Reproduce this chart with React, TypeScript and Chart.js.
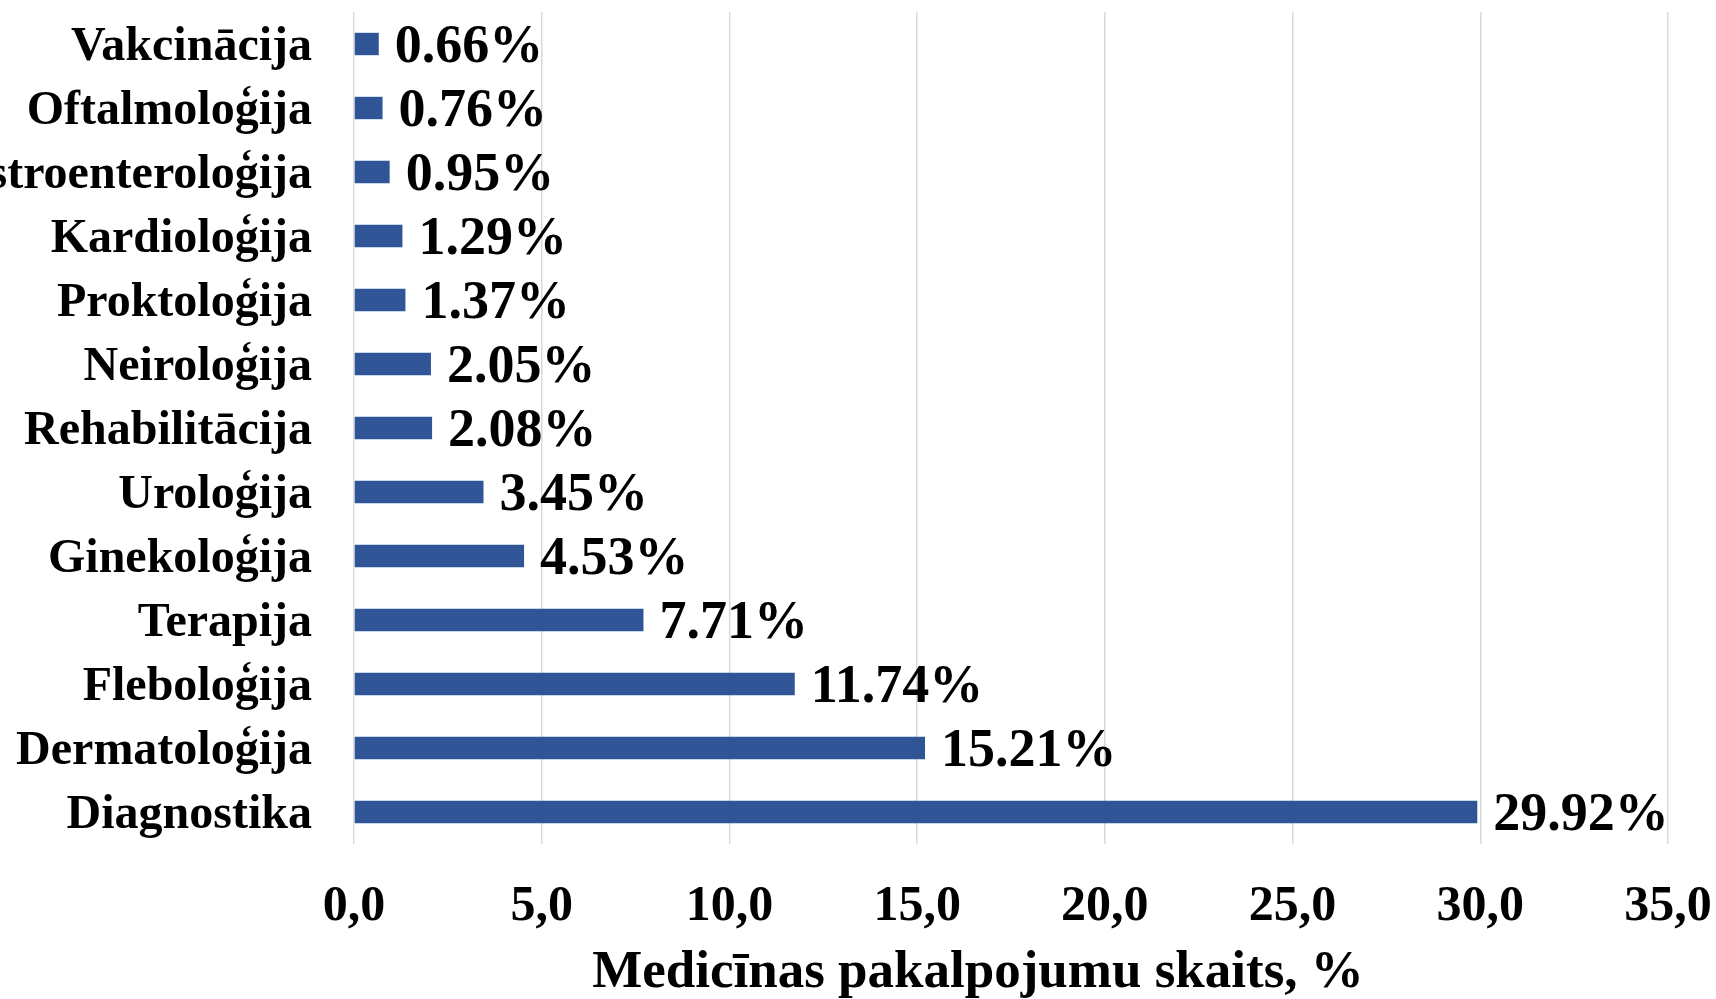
import React, { useEffect, useRef } from "react";
import { Chart, registerables } from "chart.js";

Chart.register(...registerables);

const categories = [
  "Vakcinācija",
  "Oftalmoloģija",
  "Gastroenteroloģija",
  "Kardioloģija",
  "Proktoloģija",
  "Neiroloģija",
  "Rehabilitācija",
  "Uroloģija",
  "Ginekoloģija",
  "Terapija",
  "Fleboloģija",
  "Dermatoloģija",
  "Diagnostika",
];

const values = [0.66, 0.76, 0.95, 1.29, 1.37, 2.05, 2.08, 3.45, 4.53, 7.71, 11.74, 15.21, 29.92];

const valueLabels = ["0.66%", "0.76%", "0.95%", "1.29%", "1.37%", "2.05%", "2.08%", "3.45%", "4.53%", "7.71%", "11.74%", "15.21%", "29.92%"];

const xTickValues = [0, 5, 10, 15, 20, 25, 30, 35];
const xTickLabels = ["0,0", "5,0", "10,0", "15,0", "20,0", "25,0", "30,0", "35,0"];

const axisTitle = "Medicīnas pakalpojumu skaits, %";

const FONT = "'Liberation Serif', 'Times New Roman', serif";

const valueLabelPlugin = {
  id: "valueLabels",
  afterDatasetsDraw(chart: any) {
    const ctx = chart.ctx;
    const meta = chart.getDatasetMeta(0);
    ctx.save();
    ctx.font = `bold 54px ${FONT}`;
    ctx.fillStyle = "#000000";
    ctx.textAlign = "left";
    ctx.textBaseline = "alphabetic";
    meta.data.forEach((el: any, i: number) => {
      ctx.fillText(valueLabels[i], el.x + 16, el.y + 18);
    });
    ctx.restore();
  },
};

const axisTitlePlugin = {
  id: "axisTitleCustom",
  afterDraw(chart: any) {
    const ctx = chart.ctx;
    ctx.save();
    ctx.font = `bold 53px ${FONT}`;
    ctx.fillStyle = "#000000";
    ctx.textAlign = "center";
    ctx.textBaseline = "alphabetic";
    ctx.fillText(axisTitle, 978, 987);
    ctx.restore();
  },
};

export default function App() {
  const canvasRef = useRef<HTMLCanvasElement | null>(null);

  useEffect(() => {
    document.body.style.margin = "0";
    const canvas = canvasRef.current;
    if (!canvas) return;
    const chart = new Chart(canvas, {
      type: "bar",
      data: {
        labels: categories,
        datasets: [
          {
            data: values,
            backgroundColor: "#2F5597",
            borderWidth: 0,
            barPercentage: 0.35,
            categoryPercentage: 1,
          },
        ],
      },
      options: {
        indexAxis: "y",
        animation: false,
        responsive: false,
        devicePixelRatio: 1,
        layout: { padding: { top: 12, right: 48, left: 0, bottom: 0 } },
        plugins: {
          legend: { display: false },
          tooltip: { enabled: false },
          title: { display: false },
        },
        scales: {
          x: {
            type: "linear",
            min: 0,
            max: 35,
            afterBuildTicks(scale: any) {
              scale.ticks = xTickValues.map((v) => ({ value: v }));
            },
            afterFit(scale: any) {
              scale.height = 155;
              scale.paddingLeft = 0;
              scale.paddingRight = 0;
              scale.paddingTop = 0;
              scale.paddingBottom = 0;
            },
            ticks: {
              padding: 33,
              color: "#000000",
              font: { family: FONT, size: 50, weight: "bold" },
              maxRotation: 0,
              autoSkip: false,
              callback: (v: any) => {
                const i = xTickValues.indexOf(Number(v));
                return i >= 0 ? xTickLabels[i] : "";
              },
            },
            grid: {
              color: "#D9D9D9",
              lineWidth: 1.5,
              drawTicks: false,
            },
            border: { display: false },
            title: { display: false },
          },
          y: {
            type: "category",
            afterFit(scale: any) {
              scale.width = 354;
              scale.paddingLeft = 0;
              scale.paddingRight = 0;
              scale.paddingTop = 0;
              scale.paddingBottom = 0;
            },
            ticks: {
              padding: 42,
              labelOffset: 4,
              color: "#000000",
              autoSkip: false,
              font: { family: FONT, size: 48, weight: "bold" },
            },
            grid: { display: false, drawTicks: false },
            border: { display: false },
          },
        },
      },
      plugins: [valueLabelPlugin, axisTitlePlugin],
    } as any);
    return () => chart.destroy();
  }, []);

  return (
    <div style={{ width: 1716, height: 999, background: "#ffffff" }}>
      <canvas ref={canvasRef} width={1716} height={999} style={{ display: "block" }} />
    </div>
  );
}
